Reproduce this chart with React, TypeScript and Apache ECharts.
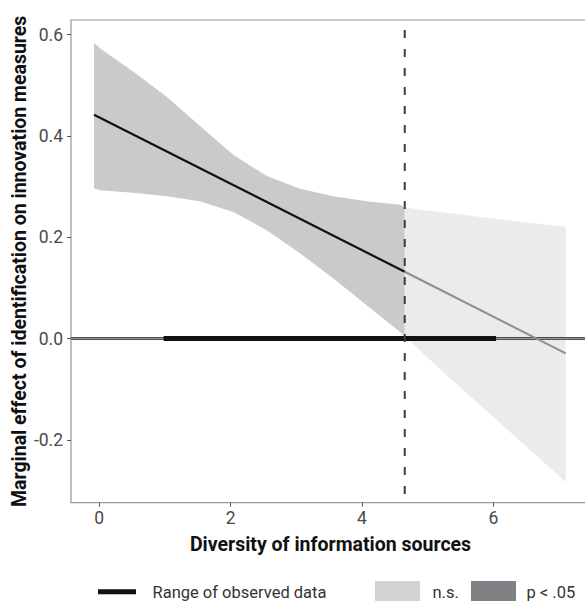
import React, { useEffect, useRef } from "react";
import * as echarts from "echarts";

// Axis limits and ticks
const xMin = -0.43;
const xMax = 7.47;
const yMin = -0.324;
const yMax = 0.629;
const xTicks = [0, 2, 4, 6];
const yTicks = [-0.2, 0, 0.2, 0.4, 0.6];

// Johnson-Neyman threshold and observed data range
const threshold = [4.65];
const observedRange = [0.98, 6.04];

// Significant region (p < .05) confidence band
const sigX = [-0.08, 0.01, 0.52, 1.03, 1.53, 2.04, 2.55, 3.06, 3.56, 4.07, 4.58, 4.65];
const sigUpper = [0.584, 0.573, 0.527, 0.477, 0.42, 0.363, 0.321, 0.296, 0.281, 0.271, 0.264, 0.259];
const sigLower = [0.297, 0.293, 0.288, 0.281, 0.271, 0.25, 0.214, 0.168, 0.119, 0.066, 0.013, 0.005];

// Non-significant region (n.s.) confidence band
const nsX = [4.65, 5.0, 5.5, 6.0, 6.5, 7.1];
const nsUpper = [0.259, 0.253, 0.245, 0.237, 0.229, 0.221];
const nsLower = [0.005, -0.038, -0.097, -0.155, -0.213, -0.283];

// Marginal effect line
const sigLineX = [-0.08, 4.65];
const sigLineY = [0.442, 0.132];
const nsLineX = [4.65, 7.1];
const nsLineY = [0.132, -0.029];

const FONT = "Roboto";

function bandSeries(xs: number[], up: number[], lo: number[], color: string) {
  return {
    type: "custom",
    silent: true,
    clip: true,
    z: 1,
    data: [[xs[0], up[0]]],
    renderItem: (params: any, api: any) => {
      const pts: number[][] = [];
      for (let i = 0; i < xs.length; i++) pts.push(api.coord([xs[i], up[i]]));
      for (let i = xs.length - 1; i >= 0; i--) pts.push(api.coord([xs[i], lo[i]]));
      return { type: "polygon", shape: { points: pts }, style: { fill: color } };
    },
  };
}

function lineSeries(data: number[][], color: string, width: number, z: number, extra: any = {}) {
  return {
    type: "line",
    data,
    symbol: "none",
    silent: true,
    z,
    lineStyle: { color, width, ...extra },
    emphasis: { disabled: true },
  };
}

export default function App() {
  const ref = useRef<HTMLDivElement>(null);
  useEffect(() => {
    if (!ref.current) return;
    const chart = echarts.init(ref.current, undefined, { renderer: "svg" });
    const option: any = {
      animation: false,
      textStyle: { fontFamily: FONT },
      grid: {
        left: 71,
        top: 20,
        width: 519,
        height: 482.7,
        containLabel: false,
        outerBoundsMode: "none",
        show: true,
        borderColor: "#969696",
        borderWidth: 1.2,
        backgroundColor: "transparent",
      },
      xAxis: {
        type: "value",
        min: xMin,
        max: xMax,
        name: "Diversity of information sources",
        nameLocation: "middle",
        nameGap: 32,
        nameMoveOverlap: false,
        nameTextStyle: { fontFamily: FONT, fontSize: 19.5, fontWeight: "bold", color: "#111" },
        axisLine: { show: false, onZero: false },
        splitLine: { show: false },
        axisTick: { show: true, length: 4, customValues: xTicks, lineStyle: { color: "#555", width: 1 } },
        axisLabel: {
          customValues: xTicks,
          margin: 6,
          fontFamily: FONT,
          fontSize: 17.5,
          color: "#4a4a4a",
          formatter: (v: number) => String(v),
        },
      },
      yAxis: {
        type: "value",
        min: yMin,
        max: yMax,
        name: "Marginal effect of identification on innovation measures",
        nameLocation: "middle",
        nameGap: 42,
        nameMoveOverlap: false,
        nameTextStyle: { fontFamily: FONT, fontSize: 19.5, fontWeight: "bold", color: "#111" },
        axisLine: { show: false, onZero: false },
        splitLine: { show: false },
        axisTick: { show: true, length: 4, customValues: yTicks, lineStyle: { color: "#555", width: 1 } },
        axisLabel: {
          customValues: yTicks,
          margin: 8,
          fontFamily: FONT,
          fontSize: 17.5,
          color: "#4a4a4a",
          formatter: (v: number) => v.toFixed(1),
        },
      },
      series: [
        bandSeries(sigX, sigUpper, sigLower, "#c9cacc"),
        bandSeries(nsX, nsUpper, nsLower, "#ebebec"),
        lineSeries([[xMin, 0], [xMax, 0]], "#4a4a4a", 3, 2),
        lineSeries([[xMin, 0], [xMax, 0]], "#a0a0a0", 1, 2),
        lineSeries([[observedRange[0], 0], [observedRange[1], 0]], "#111111", 5, 3),
        lineSeries(sigLineX.map((x, i) => [x, sigLineY[i]]), "#111111", 2.2, 4),
        lineSeries(nsLineX.map((x, i) => [x, nsLineY[i]]), "#8e8e8e", 2, 4),
        lineSeries([[threshold[0], yMax], [threshold[0], yMin]], "#3c3c3c", 2, 5, {
          type: [8, 11],
          dashOffset: 9,
        }),
      ],
      graphic: [
        {
          type: "line",
          shape: { x1: 98, y1: 591.7, x2: 136, y2: 591.7 },
          style: { stroke: "#111", lineWidth: 5 },
          silent: true,
        },
        {
          type: "text",
          x: 152.5,
          y: 592,
          style: { text: "Range of observed data", font: `16.5px ${FONT}`, fill: "#333", verticalAlign: "middle" },
          silent: true,
        },
        {
          type: "rect",
          shape: { x: 375, y: 581, width: 45, height: 24 },
          style: { fill: "#d3d3d5" },
          silent: true,
        },
        {
          type: "text",
          x: 432.5,
          y: 592,
          style: { text: "n.s.", font: `16.5px ${FONT}`, fill: "#333", verticalAlign: "middle" },
          silent: true,
        },
        {
          type: "rect",
          shape: { x: 471, y: 581, width: 45, height: 24 },
          style: { fill: "#808084" },
          silent: true,
        },
        {
          type: "text",
          x: 526.5,
          y: 592,
          style: { text: "p < .05", font: `16.5px ${FONT}`, fill: "#333", verticalAlign: "middle" },
          silent: true,
        },
      ],
    };
    chart.setOption(option);
    return () => chart.dispose();
  }, []);
  return (
    <div
      ref={ref}
      style={{ position: "absolute", left: 0, top: 0, width: 585, height: 601, background: "#fff" }}
    />
  );
}
